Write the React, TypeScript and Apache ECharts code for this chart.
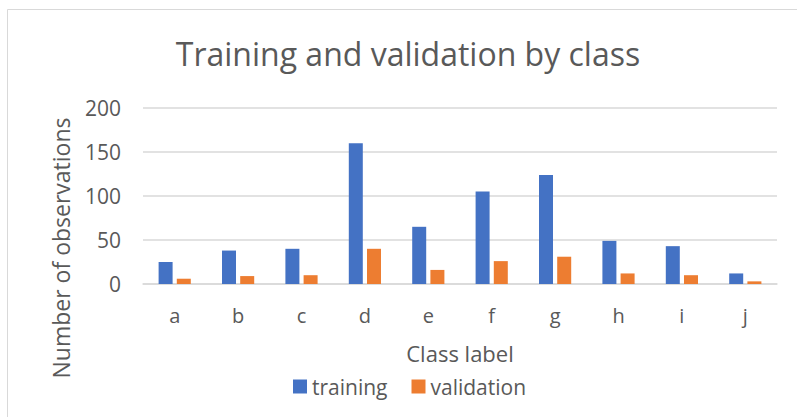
import React, { useEffect, useRef } from "react";
import * as echarts from "echarts";

const categories = ["a", "b", "c", "d", "e", "f", "g", "h", "i", "j"];
const training = [25, 38, 40, 160, 65, 105, 124, 49, 43, 12];
const validation = [6, 9, 10, 40, 16, 26, 31, 12, 10, 3];
const yTicks = { min: 0, max: 200, interval: 50 };

const FONT = "'Open Sans', 'Liberation Sans', sans-serif";
const TEXT = "#595959";
const GRID = "#d9d9d9";

export default function App() {
  const ref = useRef<HTMLDivElement>(null);
  useEffect(() => {
    if (!ref.current) return;
    const chart = echarts.init(ref.current, undefined, { renderer: "svg" });
    chart.setOption({
      animation: false,
      backgroundColor: "#ffffff",
      textStyle: { fontFamily: FONT, color: TEXT },
      title: {
        text: "Training and validation by class",
        left: 403,
        top: 32,
        textAlign: "center",
        textStyle: { fontFamily: FONT, fontSize: 32, fontWeight: "normal", color: TEXT },
      },
      graphic: [
        {
          type: "rect",
          shape: { x: 7.5, y: 9.5, width: 900, height: 600 },
          style: { fill: "none", stroke: GRID, lineWidth: 1 },
          silent: true,
          z: -10,
        },
        {
          type: "text",
          x: 61,
          y: 248,
          rotation: Math.PI / 2,
          style: {
            text: "Number of observations",
            fontFamily: FONT,
            fontSize: 23,
            fill: TEXT,
            align: "center",
            verticalAlign: "middle",
          },
        },
      ],
      legend: {
        data: ["training", "validation"],
        left: 288,
        top: 371,
        itemWidth: 14,
        itemHeight: 14,
        itemGap: 24,
        icon: "rect",
        textStyle: { fontFamily: FONT, fontSize: 21, color: TEXT },
      },
      grid: { left: 143, right: 20, top: 108, bottom: 133 },
      xAxis: {
        type: "category",
        data: categories,
        name: "Class label",
        nameLocation: "middle",
        nameGap: 58,
        nameTextStyle: { fontFamily: FONT, fontSize: 22, color: TEXT },
        axisLine: { show: true, lineStyle: { color: GRID, width: 1.5 } },
        axisTick: { show: false },
        axisLabel: { fontFamily: FONT, fontSize: 20, color: TEXT, margin: 21 },
      },
      yAxis: {
        type: "value",
        min: yTicks.min,
        max: yTicks.max,
        interval: yTicks.interval,
        axisLine: { show: false },
        axisTick: { show: false },
        axisLabel: { fontFamily: FONT, fontSize: 21, color: TEXT, margin: 22 },
        splitLine: { lineStyle: { color: GRID, width: 1.5 } },
      },
      series: [
        {
          name: "training",
          type: "bar",
          data: training,
          barWidth: 14,
          barGap: "30%",
          itemStyle: { color: "#4472c4" },
        },
        {
          name: "validation",
          type: "bar",
          data: validation,
          barWidth: 14,
          itemStyle: { color: "#ed7d31" },
        },
      ],
    });
    return () => chart.dispose();
  }, []);
  return (
    <div
      ref={ref}
      style={{ position: "fixed", left: 0, top: 0, width: 797, height: 417 }}
    />
  );
}
